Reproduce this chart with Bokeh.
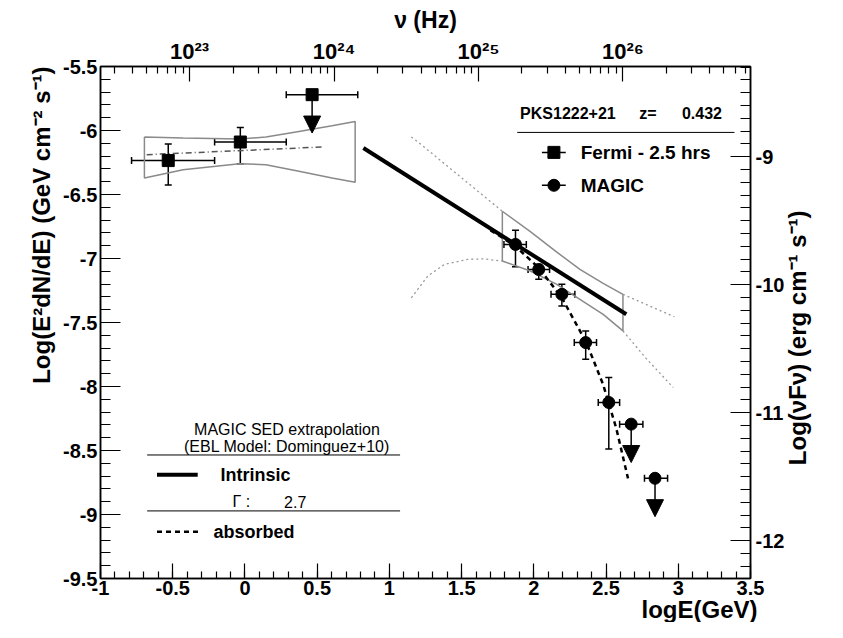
import math
import numpy as np
from bokeh.plotting import figure
from bokeh.models import (Range1d, LinearAxis, FixedTicker, CustomJSTickFormatter, Label, Title,
                          ColumnDataSource, Whisker, TeeHead, Arrow, NormalHead)
from bokeh.embed import file_html
from bokeh.resources import INLINE

# ---------------- data (log10 E [GeV], log10 E^2 dN/dE [GeV cm^-2 s^-1]) ----------------
fermi_x = [-0.531, -0.032]
fermi_y = [-6.235, -6.09]
fermi_xlo = [-0.785, -0.21]
fermi_xhi = [-0.21, 0.286]
fermi_ylo = [-6.426, -6.259]
fermi_yhi = [-6.106, -5.976]

fermi_ul_x = [0.465]
fermi_ul_y = [-5.72]
fermi_ul_xlo = [0.286]
fermi_ul_xhi = [0.781]

magic_x = [1.873, 2.034, 2.194, 2.359, 2.519]
magic_y = [-6.89, -7.086, -7.28, -7.657, -8.125]
magic_xlo = [1.793, 1.96, 2.119, 2.28, 2.446]
magic_xhi = [1.948, 2.109, 2.284, 2.434, 2.594]
magic_ylo = [-7.065, -7.163, -7.371, -7.787, -8.489]
magic_yhi = [-6.779, -7.046, -7.202, -7.566, -7.93]

magic_ul_x = [2.674, 2.839]
magic_ul_y = [-8.294, -8.717]
magic_ul_xlo = [2.594, 2.766]
magic_ul_xhi = [2.755, 2.926]

# Fermi butterfly
fbt_x = [-0.696, -0.428, -0.038, 0.145, 0.374, 0.603, 0.763]
fbt_up = [-6.051, -6.059, -6.067, -6.051, -6.007, -5.963, -5.929]
fbt_lo = [-6.371, -6.306, -6.259, -6.267, -6.319, -6.371, -6.405]
# Fermi power-law fit
ffit_x = [-0.68, 0.53]
ffit_y = [-6.189, -6.129]

# MAGIC butterfly
mbt_x = [1.782, 1.976, 2.159, 2.319, 2.48, 2.617]
mbt_up = [-6.631, -6.79, -6.95, -7.085, -7.195, -7.28]
mbt_lo = [-7.02, -7.098, -7.202, -7.319, -7.436, -7.566]
# dotted extrapolation of the butterfly
ext_up_left_x = [1.152, 1.22, 1.5, 1.782]
ext_up_left_y = [-6.051, -6.11, -6.37, -6.631]
ext_lo_left_x = [1.152, 1.266, 1.381, 1.541, 1.65, 1.782]
ext_lo_left_y = [-7.307, -7.137, -7.046, -7.007, -7.003, -7.02]
ext_up_right_x = [2.617, 2.973]
ext_up_right_y = [-7.28, -7.455]
ext_lo_right_x = [2.617, 2.777, 2.965]
ext_lo_right_y = [-7.566, -7.78, -8.008]

# MAGIC SED extrapolation, intrinsic and EBL absorbed
intr_x = [0.82, 2.64]
intr_y = [-6.137, -7.436]
abs_x = [1.70, 1.747, 1.873, 2.034, 2.194, 2.365, 2.48, 2.571, 2.652]
abs_y = [-6.78, -6.812, -6.904, -7.073, -7.307, -7.66, -7.985, -8.328, -8.718]

UL_LEN = 0.3          # length of upper-limit arrows (dex)
NU_OFFSET = 23.383    # log10(nu/Hz) = log10(E/GeV) + 23.383
ERG_OFFSET = -2.795   # GeV -> erg

FONT = "Liberation Sans"

p = figure(width=827, height=622, x_range=Range1d(-1, 3.5), y_range=Range1d(-9.5, -5.5),
           output_backend="svg", toolbar_location=None,
           min_border_left=100, min_border_right=72, min_border_top=66, min_border_bottom=44)
p.xgrid.grid_line_color = None
p.ygrid.grid_line_color = None
p.outline_line_color = "black"
p.outline_line_width = 1.5
p.background_fill_color = "white"
p.border_fill_color = "white"

p.extra_x_ranges = {"nu": Range1d(-1 + NU_OFFSET, 3.5 + NU_OFFSET)}
p.extra_y_ranges = {"erg": Range1d(-9.5 + ERG_OFFSET, -5.5 + ERG_OFFSET)}

fmt = CustomJSTickFormatter(code="return (Math.round(tick*10)/10).toString();")
nufmt = CustomJSTickFormatter(code="""
const sup = {'0':'\u2070','1':'\u00b9','2':'\u00b2','3':'\u00b3','4':'\u2074','5':'\u2075','6':'\u2076','7':'\u2077','8':'\u2078','9':'\u2079'};
const s = String(Math.round(tick));
return '10' + s.split('').map(c => sup[c]).join('');
""")


def style_axis(ax, tick_len, label_standoff):
    ax.axis_line_width = 1.5
    ax.axis_line_color = "black"
    ax.major_tick_in = tick_len
    ax.major_tick_out = 0
    ax.minor_tick_in = tick_len // 2
    ax.minor_tick_out = 0
    ax.major_tick_line_width = 1.2
    ax.minor_tick_line_width = 1.2
    ax.major_label_text_font = FONT
    ax.major_label_text_font_style = "bold"
    ax.major_label_text_font_size = "20px"
    ax.major_label_text_color = "black"
    ax.major_label_standoff = label_standoff


def axis_title(ax, text, size, standoff):
    ax.axis_label = text
    ax.axis_label_text_font = FONT
    ax.axis_label_text_font_style = "bold"
    ax.axis_label_text_font_size = f"{size}px"
    ax.axis_label_text_color = "black"
    ax.axis_label_standoff = standoff


xa = p.xaxis[0]
xa.ticker = FixedTicker(ticks=np.round(np.arange(-1, 3.51, 0.5), 2).tolist(),
                        minor_ticks=np.round(np.arange(-1, 3.51, 0.1), 2).tolist())
xa.formatter = fmt
style_axis(xa, 15, 2)

ya = p.yaxis[0]
ya.ticker = FixedTicker(ticks=np.round(np.arange(-9.5, -5.49, 0.5), 2).tolist(),
                        minor_ticks=np.round(np.arange(-9.5, -5.49, 0.1), 2).tolist())
ya.formatter = fmt
style_axis(ya, 20, 3)

top = LinearAxis(x_range_name="nu")
top.ticker = FixedTicker(ticks=[23, 24, 25, 26],
                         minor_ticks=[n + math.log10(k) for n in range(22, 27) for k in range(2, 10)])
top.formatter = nufmt
style_axis(top, 15, 3)
top.major_label_text_font_size = "22px"
axis_title(top, "\u03bd (Hz)", 23, 3)
p.add_layout(top, "above")

right = LinearAxis(y_range_name="erg")
right.ticker = FixedTicker(ticks=[-12, -11, -10, -9],
                           minor_ticks=np.round(np.arange(-12.2, -8.29, 0.1), 2).tolist())
right.formatter = fmt
style_axis(right, 20, 5)
axis_title(right, "\u00a0" * 17 + "Log(\u03bdF\u03bd) (erg cm\u207b\u00b9 s\u207b\u00b9)", 24, 10)
right.axis_label_orientation = math.pi / 2
right.axis_label_align = "start"
p.add_layout(right, "right")

# left and bottom titles (ROOT style: aligned to the axis end)
p.add_layout(Title(text="Log(E\u00b2dN/dE) (GeV cm\u207b\u00b2 s\u207b\u00b9)", align="right",
                   text_font=FONT, text_font_style="bold", text_font_size="24px",
                   text_color="black", standoff=12), "left")
p.add_layout(Title(text="logE(GeV)", align="right", offset=-7,
                   text_font=FONT, text_font_style="bold", text_font_size="24px",
                   text_color="black", standoff=-7), "below")

GRAY = "#8a8a8a"
# Fermi butterfly
p.line(fbt_x + fbt_x[::-1] + [fbt_x[0]], fbt_up + fbt_lo[::-1] + [fbt_up[0]], line_color=GRAY, line_width=1.5)
p.line(ffit_x, ffit_y, line_color="#555555", line_width=1.5, line_dash="6 3 1 3")

# MAGIC butterfly + extrapolation
p.line(mbt_x + mbt_x[::-1] + [mbt_x[0]], mbt_up + mbt_lo[::-1] + [mbt_up[0]], line_color=GRAY, line_width=1.5)
for ex, ey in [(ext_up_left_x, ext_up_left_y), (ext_lo_left_x, ext_lo_left_y),
               (ext_up_right_x, ext_up_right_y), (ext_lo_right_x, ext_lo_right_y)]:
    p.line(ex, ey, line_color="#999999", line_width=1.3, line_dash="2 3")

# extrapolations
p.line(intr_x, intr_y, line_color="black", line_width=4)
p.line(abs_x, abs_y, line_color="black", line_width=2.5, line_dash="5 4")


def errbars(x, y, xlo, xhi, ylo=None, yhi=None):
    d = dict(x=x, y=y, xlo=xlo, xhi=xhi)
    if ylo is not None:
        d.update(ylo=ylo, yhi=yhi)
    src = ColumnDataSource(d)
    p.add_layout(Whisker(source=src, base="y", lower="xlo", upper="xhi", dimension="width",
                         line_color="black", line_width=1.5,
                         lower_head=TeeHead(size=7, line_width=1.5), upper_head=TeeHead(size=7, line_width=1.5)))
    if ylo is not None:
        p.add_layout(Whisker(source=src, base="x", lower="ylo", upper="yhi", dimension="height",
                             line_color="black", line_width=1.5,
                             lower_head=TeeHead(size=7, line_width=1.5), upper_head=TeeHead(size=7, line_width=1.5)))
    return src


def ularrows(x, y):
    src = ColumnDataSource(dict(x=x, y=y, ytip=[v - UL_LEN for v in y]))
    p.add_layout(Arrow(source=src, x_start="x", y_start="y", x_end="x", y_end="ytip",
                       line_color="black", line_width=1.5,
                       end=NormalHead(size=17, fill_color="black", line_color="black")))


errbars(fermi_x, fermi_y, fermi_xlo, fermi_xhi, fermi_ylo, fermi_yhi)
errbars(fermi_ul_x, fermi_ul_y, fermi_ul_xlo, fermi_ul_xhi)
ularrows(fermi_ul_x, fermi_ul_y)
p.scatter(fermi_x + fermi_ul_x, fermi_y + fermi_ul_y, marker="square", size=12, color="black")

errbars(magic_x, magic_y, magic_xlo, magic_xhi, magic_ylo, magic_yhi)
errbars(magic_ul_x, magic_ul_y, magic_ul_xlo, magic_ul_xhi)
ularrows(magic_ul_x, magic_ul_y)
p.scatter(magic_x + magic_ul_x, magic_y + magic_ul_y, marker="circle", size=12, color="black")


# ---------------- legends ----------------
def lab(x, y, text, size, bold=True, align="left"):
    p.add_layout(Label(x=x, y=y, text=text, text_font=FONT, text_font_size=f"{size}px",
                       text_font_style="bold" if bold else "normal", text_align=align,
                       text_baseline="middle", text_color="black"))


# top-right legend
lab(1.905, -5.866, "PKS1222+21", 16)
lab(2.729, -5.866, "z=", 16)
lab(3.025, -5.866, "0.432", 16)
p.segment(x0=[1.885], y0=[-6.015], x1=[3.389], y1=[-6.015], line_color="black", line_width=1)
p.segment(x0=[2.056, 2.056], y0=[-6.171, -6.428], x1=[2.221, 2.221], y1=[-6.171, -6.428],
          line_color="black", line_width=1.5)
p.scatter([2.139], [-6.171], marker="square", size=12, color="black")
p.scatter([2.139], [-6.428], marker="circle", size=12, color="black")
lab(2.324, -6.171, "Fermi - 2.5 hrs", 19)
lab(2.324, -6.428, "MAGIC", 19)

# bottom-left legend
lab(0.291, -8.336, "MAGIC SED extrapolation", 16, bold=False, align="center")
lab(0.291, -8.469, "(EBL Model: Dominguez+10)", 16, bold=False, align="center")
p.segment(x0=[-0.677, -0.677], y0=[-8.535, -8.972], x1=[1.074, 1.074], y1=[-8.535, -8.972],
          line_color="black", line_width=1)
p.segment(x0=[-0.609], y0=[-8.689], x1=[-0.327], y1=[-8.689], line_color="black", line_width=4)
lab(-0.169, -8.689, "Intrinsic", 18)
lab(-0.087, -8.902, "\u0393 :", 16, bold=False)
lab(0.271, -8.902, "2.7", 16, bold=False)
p.segment(x0=[-0.609], y0=[-9.134], x1=[-0.314], y1=[-9.134], line_color="black", line_width=2.5,
          line_dash="5 4")
lab(-0.217, -9.134, "absorbed", 18)

open("out.html", "w").write(file_html(p, INLINE))
